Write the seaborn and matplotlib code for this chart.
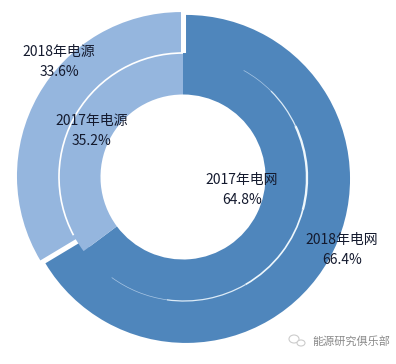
import matplotlib
matplotlib.use('Agg')
import matplotlib.pyplot as plt
import matplotlib.patches as mpatches
import seaborn as sns

years = ['2018', '2017']
categories = ['电网', '电源']
share_2018 = [66.4, 33.6]
share_2017 = [64.8, 35.2]
watermark = '能源研究俱乐部'

sns.set_theme(style='white')
plt.rcParams['font.family'] = ['Noto Sans CJK SC', 'DejaVu Sans']

colors = sns.color_palette(['#4f86bc', '#95b6de'])
text_color = '#141a2e'

fig, ax = plt.subplots(figsize=(3.96, 3.64), dpi=100)
fig.subplots_adjust(0, 0, 1, 1)

# outer ring, explode is in data units here since the axes are in pixels
# made wider than it looks so it runs under the inner ring with no gap
ax.pie(share_2018, colors=colors, startangle=90, counterclock=False,
       center=(183.5, 186.5), radius=164, explode=(2.9, 2.9),
       wedgeprops=dict(width=46, linewidth=0))

# inner ring
ax.pie(share_2017, colors=colors, startangle=90, counterclock=False,
       center=(183, 187), radius=124,
       wedgeprops=dict(width=41.5, linewidth=0, zorder=3))

# white line between the rings, on the light part
ax.add_patch(mpatches.Arc((183, 187), 248, 248, theta1=90, theta2=208,
                          color='white', linewidth=1.2, zorder=4))
# same line on the dark part, thin at both ends and wider to the right
arc_parts = [(234, 262, '#a9c6e4', 0.5), (262, 300, '#dcebf7', 0.9),
             (300, 345, '#eef7fc', 1.2), (345, 385, '#eef7fc', 1.7),
             (385, 405, '#dcebf7', 0.9), (405, 421, '#a9c6e4', 0.5)]
for start, end, col, lw in arc_parts:
    ax.add_patch(mpatches.Arc((184, 186), 246, 246, theta1=start, theta2=end,
                              color=col, linewidth=lw, zorder=4))

ax.set_xlim(0, 396)
ax.set_ylim(0, 364)
ax.set_aspect('equal')
ax.axis('off')

label_pos = {
    ('2018', '电网'): (342, 114),
    ('2018', '电源'): (59, 302),
    ('2017', '电网'): (242, 174),
    ('2017', '电源'): (92, 233),
}
for year, values in zip(years, [share_2018, share_2017]):
    for cat, val in zip(categories, values):
        x, y = label_pos[(year, cat)]
        ax.text(x, y, f'{year}年{cat}\n{val:.1f}%', ha='center', va='center',
                fontsize=10, color=text_color, linespacing=1.6, zorder=5)

# watermark in the corner
ax.text(351, 23, watermark, ha='center', va='center', fontsize=8, color='#8a8a8a', zorder=5)
ax.add_patch(mpatches.Ellipse((294, 25), 10, 8, facecolor='none', edgecolor='#cccccc', linewidth=0.8, zorder=5))
ax.add_patch(mpatches.Ellipse((301, 21), 8, 6, facecolor='white', edgecolor='#cccccc', linewidth=0.8, zorder=5))

fig.savefig('out.png', dpi=100)
